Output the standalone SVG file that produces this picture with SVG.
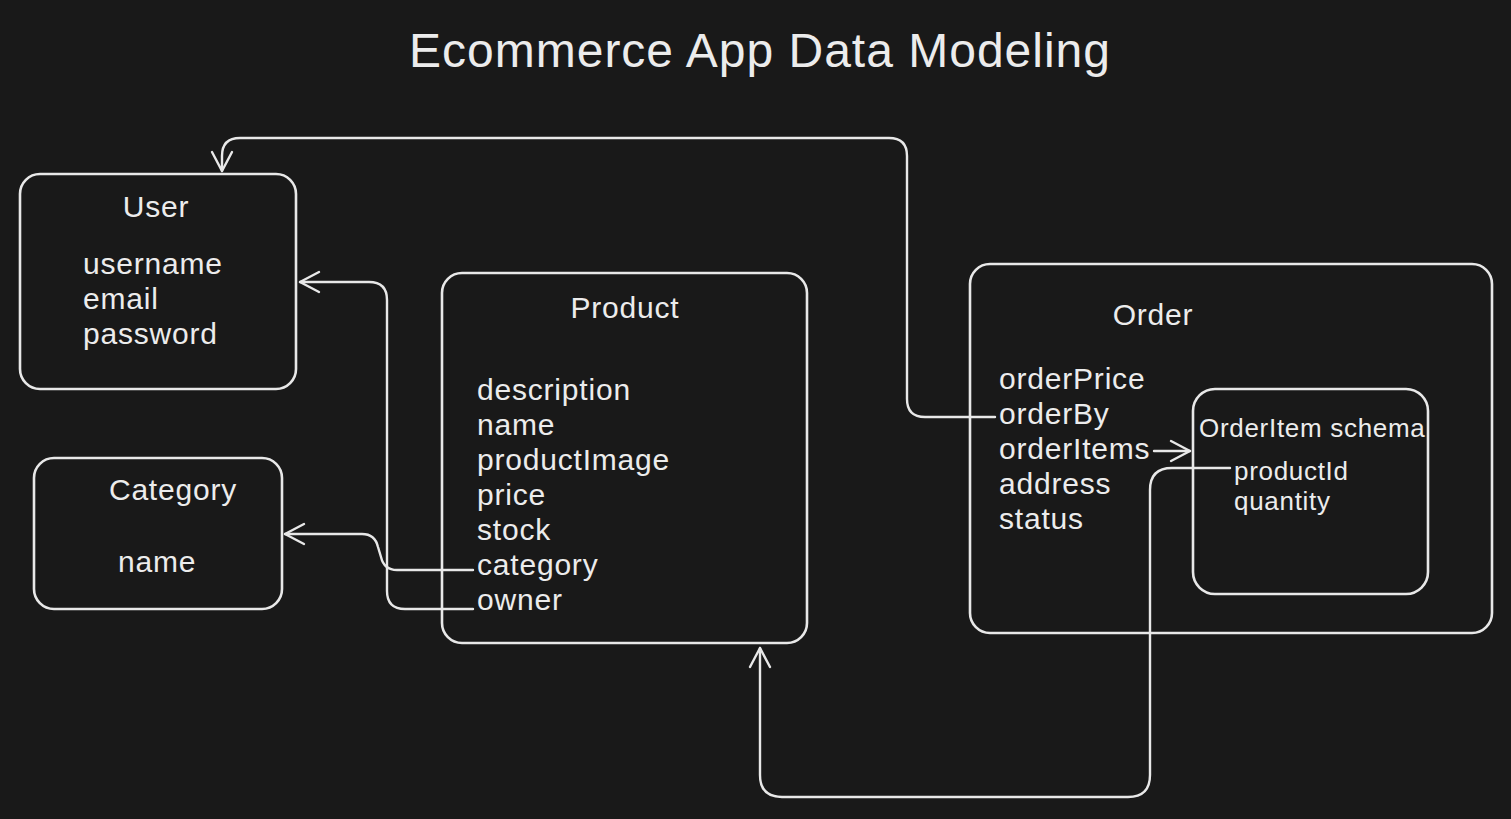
<svg xmlns="http://www.w3.org/2000/svg" width="1511" height="819" viewBox="0 0 1511 819">
<style>
.box{fill:none;stroke:#e8e8e8;stroke-width:2.6}
.con{fill:none;stroke:#e8e8e8;stroke-width:2.4;stroke-linecap:round;stroke-linejoin:round}
text{font-family:"Liberation Sans",Arial,sans-serif;fill:#ececec}
.h{font-size:30px;letter-spacing:0.8px;text-anchor:middle}
.f{font-size:30px;letter-spacing:0.8px}
.s{font-size:26px;letter-spacing:0.7px}
</style>
<defs>
<marker id="arr" markerUnits="userSpaceOnUse" markerWidth="30" markerHeight="30" viewBox="-24 -15 30 30" refX="0" refY="0" orient="auto">
<path d="M-19,-10 L0,0 L-19,10" fill="none" stroke="#e8e8e8" stroke-width="2.4" stroke-linecap="round" stroke-linejoin="round"/>
</marker>
</defs>
<rect width="1511" height="819" fill="#191919"/>
<text x="760" y="67" style="font-size:48px;letter-spacing:1px;text-anchor:middle">Ecommerce App Data Modeling</text>
<g id="user">
<rect class="box" x="20" y="174" width="276" height="215" rx="20"/>
<text class="h" x="156" y="217">User</text>
<text class="f" x="83" y="274">username</text>
<text class="f" x="83" y="309">email</text>
<text class="f" x="83" y="344">password</text>
</g>
<g id="category">
<rect class="box" x="34" y="458" width="248" height="151" rx="20"/>
<text class="h" x="173" y="500">Category</text>
<text class="f" x="118" y="572">name</text>
</g>
<g id="product">
<rect class="box" x="442" y="273" width="365" height="370" rx="20"/>
<text class="h" x="625" y="318">Product</text>
<text class="f" x="477" y="400">description</text>
<text class="f" x="477" y="435">name</text>
<text class="f" x="477" y="470">productImage</text>
<text class="f" x="477" y="505">price</text>
<text class="f" x="477" y="540">stock</text>
<text class="f" x="477" y="575">category</text>
<text class="f" x="477" y="610">owner</text>
</g>
<g id="order">
<rect class="box" x="970" y="264" width="522" height="369" rx="20"/>
<text class="h" x="1153" y="325">Order</text>
<text class="f" x="999" y="389">orderPrice</text>
<text class="f" x="999" y="424">orderBy</text>
<text class="f" x="999" y="459">orderItems</text>
<text class="f" x="999" y="494">address</text>
<text class="f" x="999" y="529">status</text>
</g>
<g id="orderitem">
<rect class="box" x="1193" y="389" width="235" height="205" rx="22"/>
<text class="s" x="1199" y="437">OrderItem schema</text>
<text class="s" x="1234" y="480">productId</text>
<text class="s" x="1234" y="510">quantity</text>
</g>
<g id="connectors">
<path class="con" marker-end="url(#arr)" d="M995 417 L925 417 Q907 417 907 399 L907 156 Q907 138 889 138 L240 138 Q222 138 222 156 L222 171"/>
<path class="con" marker-end="url(#arr)" d="M473 609 L405 609 Q387 609 387 591 L387 300 Q387 282 369 282 L300 282"/>
<path class="con" marker-end="url(#arr)" d="M473 570 L397 570 Q384 570 381 557 L378 547 Q375 534 362 534 L285 534"/>
<path class="con" marker-end="url(#arr)" d="M1154 451 L1190 451"/>
<path class="con" marker-end="url(#arr)" d="M1230 468 L1172 468 Q1150 468 1150 490 L1150 775 Q1150 797 1128 797 L782 797 Q760 797 760 775 L760 648"/>
</g>
</svg>
